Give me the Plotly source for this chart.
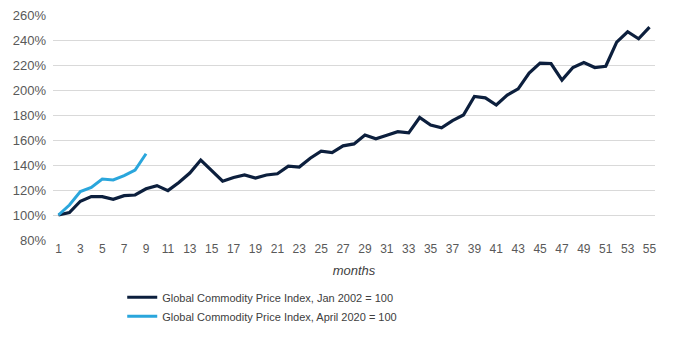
import plotly.graph_objects as go

months_2002 = list(range(1, 56))
index_2002 = [100, 102, 111, 114.7, 114.7, 112.5, 115.5, 116, 121, 123.5,
              119.5, 126, 133.6, 144, 135.5, 127, 130, 132, 129.6, 132,
              133, 139, 138.4, 145.4, 151, 150, 155.3, 156.9, 164, 161,
              163.8, 166.7, 165.7, 178, 172, 169.7, 175.5, 180, 194.8, 193.7,
              188, 195.9, 200.9, 213.5, 221.5, 221.2, 207.9, 218, 222, 218,
              219, 238.3, 246.6, 241, 250.3]
months_2020 = list(range(1, 10))
index_2020 = [100, 108, 118.7, 122, 128.8, 128, 131.5, 136, 149]

name_2002 = "Global Commodity Price Index, Jan 2002 = 100"
name_2020 = "Global Commodity Price Index, April 2020 = 100"
y_ticks = list(range(80, 261, 20))
x_ticks = list(range(1, 56, 2))

fig = go.Figure()
fig.add_trace(go.Scatter(x=months_2002, y=index_2002, mode="lines", name=name_2002,
                         line=dict(color="#0c1f3d", width=3.2)))
fig.add_trace(go.Scatter(x=months_2020, y=index_2020, mode="lines", name=name_2020,
                         line=dict(color="#2aa6dc", width=3)))

fig.update_layout(
    width=680, height=350,
    margin=dict(l=53, r=25, t=15, b=110, autoexpand=False),
    paper_bgcolor="white", plot_bgcolor="white",
    font=dict(family="Liberation Sans, Arial, sans-serif", size=12, color="#595959"),
    showlegend=True,
    legend=dict(orientation="v", x=0.115, xanchor="left", y=-0.19, yanchor="top",
                font=dict(size=11, color="#404040"), tracegroupgap=0,
                itemwidth=30, bgcolor="rgba(0,0,0,0)"),
    xaxis=dict(range=[0.5, 55.5], tickmode="array", tickvals=x_ticks,
               ticktext=[str(v) for v in x_ticks], showgrid=False, zeroline=False,
               showline=False, ticks="", tickfont=dict(size=12, color="#595959"),
               title=dict(text="<i>months</i>", font=dict(size=13, color="#404040"),
                          standoff=10)),
    yaxis=dict(range=[80, 260], tickmode="array", tickvals=y_ticks,
               ticktext=[f"{v}%" for v in y_ticks], showgrid=True,
               gridcolor="#d9d9d9", gridwidth=1, zeroline=False, showline=False,
               ticks="", tickfont=dict(size=13, color="#595959"), ticklabelstandoff=6),
)

fig.write_html("out.html")
